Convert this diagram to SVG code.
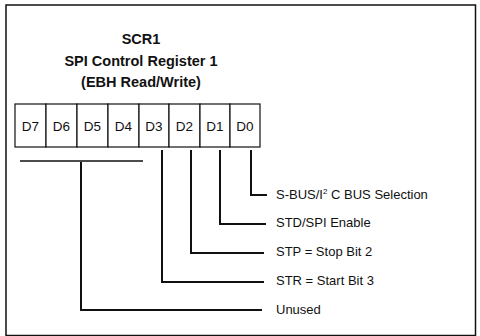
<svg xmlns="http://www.w3.org/2000/svg" width="480" height="336" viewBox="0 0 480 336">
<style>
.t{font-family:"Liberation Sans",Arial,sans-serif;font-weight:bold;font-size:14.5px;fill:#111;text-anchor:middle}
.c{font-family:"Liberation Sans",Arial,sans-serif;font-size:13.5px;fill:#111;text-anchor:middle}
.l{font-family:"Liberation Sans",Arial,sans-serif;font-size:13px;fill:#111}
.cell{fill:#fff;stroke:#111;stroke-width:1.2}
.w{fill:none;stroke:#111;stroke-width:2}
</style>
<rect x="0" y="0" width="480" height="336" fill="#fff"/>
<rect x="6" y="5" width="469.5" height="330.5" fill="none" stroke="#111" stroke-width="1.5"/>
<g id="title">
<text class="t" x="141" y="44">SCR1</text>
<text class="t" x="141" y="66">SPI Control Register 1</text>
<text class="t" x="141" y="87">(EBH Read/Write)</text>
</g>
<g id="register">
<rect class="cell" x="15" y="104" width="31" height="43"/>
<rect class="cell" x="46" y="104" width="31" height="43"/>
<rect class="cell" x="77" y="104" width="31" height="43"/>
<rect class="cell" x="108" y="104" width="31" height="43"/>
<rect class="cell" x="139" y="104" width="30" height="43"/>
<rect class="cell" x="169" y="104" width="31" height="43"/>
<rect class="cell" x="200" y="104" width="30" height="43"/>
<rect class="cell" x="230" y="104" width="30" height="43"/>
<text class="c" x="30.5" y="130.5">D7</text>
<text class="c" x="61.5" y="130.5">D6</text>
<text class="c" x="92.5" y="130.5">D5</text>
<text class="c" x="123.5" y="130.5">D4</text>
<text class="c" x="154" y="130.5">D3</text>
<text class="c" x="184.5" y="130.5">D2</text>
<text class="c" x="215" y="130.5">D1</text>
<text class="c" x="245" y="130.5">D0</text>
</g>
<g id="connectors">
<path class="w" d="M251 150V195H267"/>
<path class="w" d="M220 150V224H266"/>
<path class="w" d="M191 150V253H264"/>
<path class="w" d="M162 150V282H264"/>
<path fill="none" stroke="#111" stroke-width="1.3" d="M20 161H143"/>
<path class="w" d="M81 162V310H262"/>
</g>
<g id="labels">
<text class="l" x="276" y="198.5">S-BUS/I<tspan font-size="8" dy="-5">2</tspan><tspan dy="5"> C BUS Selection</tspan></text>
<text class="l" x="276" y="227">STD/SPI Enable</text>
<text class="l" x="276" y="256">STP = Stop Bit 2</text>
<text class="l" x="276" y="285">STR = Start Bit 3</text>
<text class="l" x="276" y="313.5">Unused</text>
</g>
</svg>
